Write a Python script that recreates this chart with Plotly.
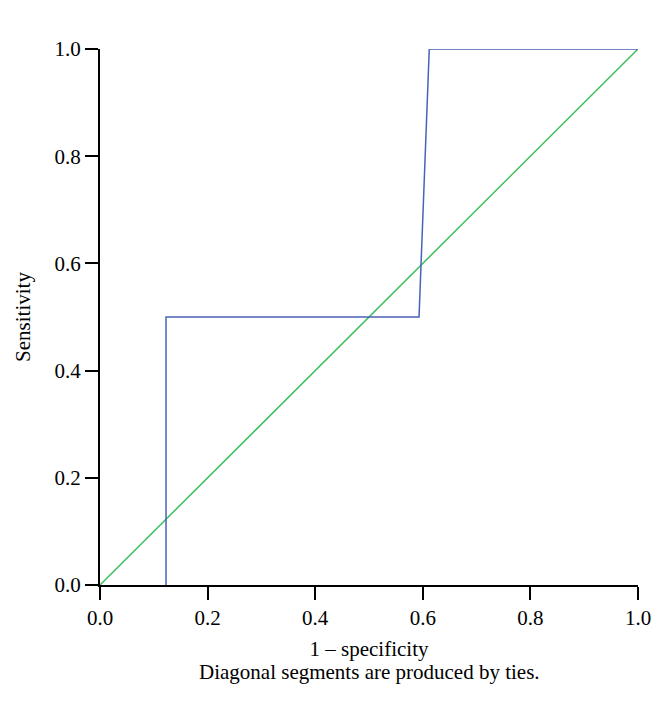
import plotly.graph_objects as go

roc_x = [0.1227, 0.1227, 0.593, 0.612, 1.0]
roc_y = [0.0, 0.5, 0.5, 1.0, 1.0]
ref_x = [0.0, 1.0]
ref_y = [0.0, 1.0]
tick_vals = [0.0, 0.2, 0.4, 0.6, 0.8, 1.0]
tick_text = ["0.0", "0.2", "0.4", "0.6", "0.8", "1.0"]

FONT = "Liberation Serif"

fig = go.Figure()
fig.add_trace(go.Scatter(x=ref_x, y=ref_y, mode="lines",
                         line=dict(color="#3cbf5c", width=1.5), showlegend=False))
fig.add_trace(go.Scatter(x=roc_x, y=roc_y, mode="lines",
                         line=dict(color="#4a62b4", width=1.5), showlegend=False))

axis_common = dict(
    range=[0, 1], tickvals=tick_vals, ticktext=tick_text,
    showgrid=False, zeroline=False, showline=True, linecolor="black", linewidth=2,
    ticks="outside", tickcolor="black", tickwidth=2, ticklen=13,
    tickfont=dict(family=FONT, size=21, color="black"),
)
fig.update_xaxes(**axis_common,
                 title=dict(text="1 – specificity", font=dict(family=FONT, size=21, color="black"), standoff=12))
fig.update_yaxes(**axis_common,
                 title=dict(text="Sensitivity", font=dict(family=FONT, size=21, color="black"), standoff=18))

fig.add_annotation(text="Diagonal segments are produced by ties.", xref="paper", yref="paper",
                   x=0.5, y=-0.162, xanchor="center", yanchor="middle", showarrow=False,
                   font=dict(family=FONT, size=21, color="black"))

fig.update_layout(width=658, height=699, margin=dict(l=92, r=28, t=41, b=122),
                  plot_bgcolor="white", paper_bgcolor="white")
fig.write_html("out.html")
